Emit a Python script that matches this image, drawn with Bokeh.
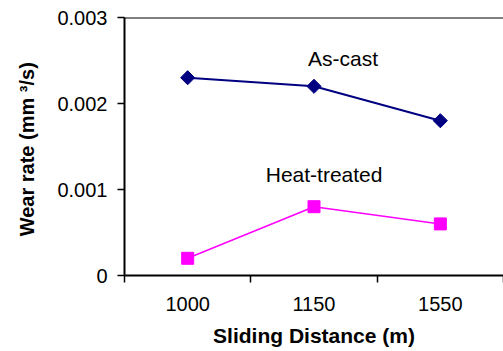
import math
from bokeh.plotting import figure
from bokeh.models import Range1d, FixedTicker, Span, ColumnDataSource
from bokeh.core.properties import value
from bokeh.embed import file_html
from bokeh.resources import INLINE

# data
distances = ["1000", "1150", "1550"]
as_cast = [0.0023, 0.0022, 0.0018]
heat_treated = [0.0002, 0.0008, 0.0006]
y_ticks = [0, 0.001, 0.002, 0.003]
y_tick_labels = ["0", "0.001", "0.002", "0.003"]
series_names = ["As-cast", "Heat-treated"]
name_pos_x = [2.23, 2.08]
name_pos_y = [0.00252, 0.00117]

xs = list(range(1, len(distances) + 1))
FONT = "Liberation Sans"

p = figure(width=503, height=351, output_backend="svg", toolbar_location=None,
           x_range=Range1d(0.5, len(distances) + 0.5), y_range=Range1d(0, 0.003),
           min_border_left=124, min_border_right=0, min_border_top=17, min_border_bottom=76)
p.outline_line_color = None
p.grid.visible = False
p.background_fill_color = "white"
p.border_fill_color = "white"

# x axis
xa = p.xaxis[0]
xa.ticker = FixedTicker(ticks=xs, minor_ticks=[x - 0.5 for x in xs] + [xs[-1] + 0.5])
xa.major_label_overrides = {x: lab for x, lab in zip(xs, distances)}
xa.major_tick_out = 0
xa.major_tick_in = 0
xa.minor_tick_out = 7
xa.minor_tick_in = 0
xa.minor_tick_line_color = "black"
xa.minor_tick_line_width = 1.5
xa.axis_line_color = "black"
xa.axis_line_width = 2
xa.major_label_text_font = FONT
xa.major_label_text_font_size = "20px"
xa.major_label_text_color = "black"
xa.major_label_standoff = 14
xa.axis_label = "Sliding Distance (m)"
xa.axis_label_text_font = FONT
xa.axis_label_text_font_size = "21px"
xa.axis_label_text_font_style = "bold"
xa.axis_label_text_color = "black"
xa.axis_label_standoff = 10

# y axis
ya = p.yaxis[0]
ya.ticker = FixedTicker(ticks=y_ticks, minor_ticks=[])
ya.major_label_overrides = {t: l for t, l in zip(y_ticks, y_tick_labels)}
ya.major_tick_out = 7
ya.major_tick_in = 0
ya.major_tick_line_width = 1.5
ya.major_tick_line_color = "black"
ya.axis_line_color = "black"
ya.axis_line_width = 2
ya.major_label_text_font = FONT
ya.major_label_text_font_size = "20px"
ya.major_label_text_color = "black"
ya.major_label_standoff = 10
ya.axis_label = "Wear rate (mm  \u00b3/s)"
ya.axis_label_text_font = FONT
ya.axis_label_text_font_size = "20px"
ya.axis_label_text_font_style = "bold"
ya.axis_label_text_color = "black"
ya.axis_label_standoff = 16

# top border line
p.add_layout(Span(location=0.003, dimension="width", line_color="black", line_width=2))

# series
p.line(xs, as_cast, line_color="#000080", line_width=2)
p.scatter(xs, as_cast, marker="square", angle=math.pi / 4, size=10,
          fill_color="#000080", line_color="#000080")
p.line(xs, heat_treated, line_color="#FF00FF", line_width=1.5)
p.scatter(xs, heat_treated, marker="square", size=12,
          fill_color="#FF00FF", line_color="#FF00FF")

src = ColumnDataSource(dict(x=name_pos_x, y=name_pos_y, t=series_names))
p.text(x="x", y="y", text="t", source=src, text_font=value(FONT), text_font_size="21px",
       text_align="center", text_baseline="middle", text_color="black")

open("out.html", "w").write(file_html(p, INLINE))
